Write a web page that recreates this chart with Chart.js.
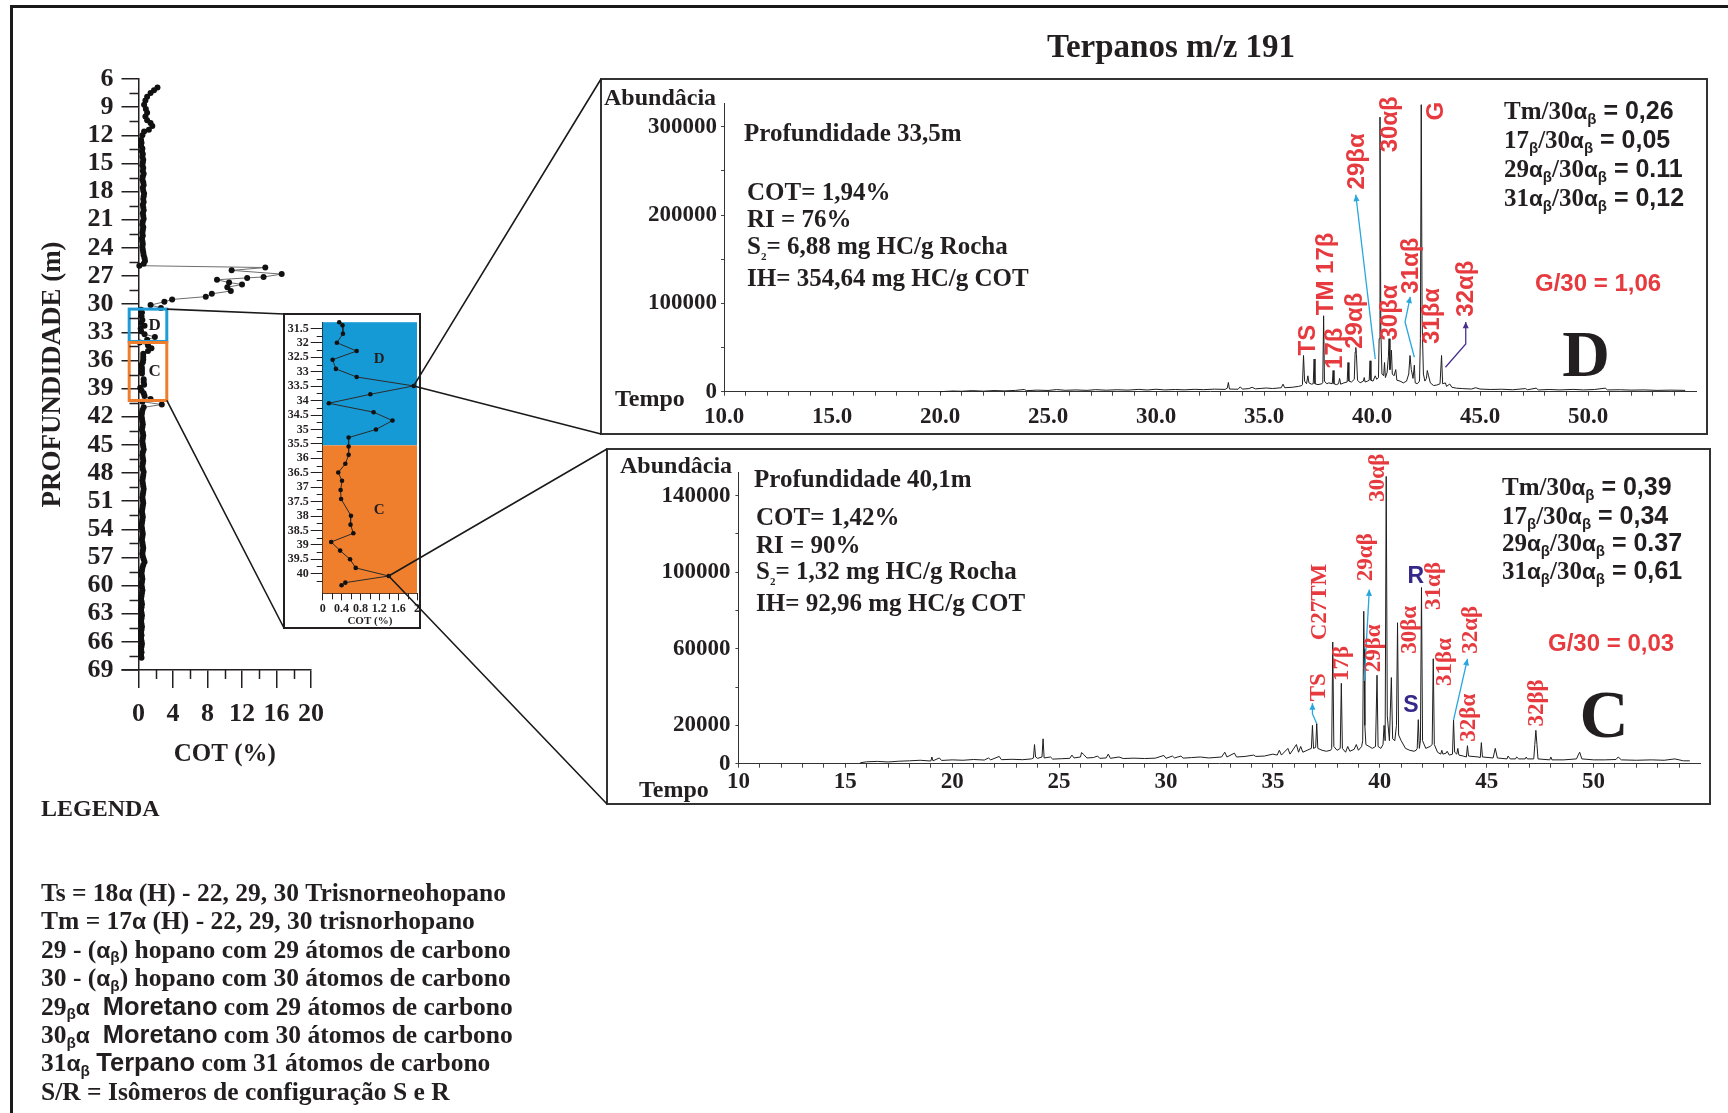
<!DOCTYPE html>
<html lang="pt">
<head>
<meta charset="utf-8">
<title>Terpanos m/z 191</title>
<script src="https://cdn.jsdelivr.net/npm/chart.js@4.4.1/dist/chart.umd.min.js"></script>
<style>
  html, body { margin: 0; padding: 0; background: #fff; }
  #page { position: relative; width: 1728px; height: 1113px; overflow: hidden; background: #fff; }
  canvas { position: absolute; }
  .txt { position: absolute; white-space: nowrap; line-height: 1; color: #231f20;
         font-family: "Liberation Serif", "Times New Roman", serif; font-weight: bold;
         transform: translateY(-50%); }
  .ctr { transform: translate(-50%, -50%); }
  .sn { font-family: "Liberation Sans", Arial, sans-serif; font-weight: bold; }
  .a { font-family: "Liberation Sans", Arial, sans-serif; font-weight: bold; font-size: 0.9em; }
  .b { font-family: "Liberation Sans", Arial, sans-serif; font-weight: bold; font-size: 0.6em; position: relative; top: 0.3em; }
  .box { position: absolute; box-sizing: border-box; border: 2px solid #333; }
</style>
</head>
<body>
<div id="page">
  <div class="box" style="left:10px;top:5px;width:1760px;height:1150px;border-width:3px 0 0 3px;border-color:#1a1a1a;"></div>
  <canvas id="depthChart" style="left:0;top:0" width="340" height="780"></canvas>
  <div class="box" style="left:283px;top:313px;width:138px;height:316px;border-color:#231f20"></div>
  <canvas id="insetChart" style="left:283px;top:313px" width="138" height="316"></canvas>
  <canvas id="chartD" style="left:600px;top:78px" width="1108" height="357"></canvas>
  <div class="box" style="left:600px;top:78px;width:1108px;height:357px"></div>
  <canvas id="chartC" style="left:606px;top:448px" width="1105" height="357"></canvas>
  <div class="box" style="left:606px;top:448px;width:1105px;height:357px"></div>
  <canvas id="links" style="left:0;top:0;pointer-events:none" width="1728" height="1113"></canvas>
</div>
<script>
// ---- depth profile (COT % vs depth m) ----
const depthM = [
  6.9, 7.2, 7.5, 7.9, 8.3, 8.75, 9.2, 9.6, 10.0, 10.4,
  10.7, 11.0, 11.4, 11.6, 12.0, 12.5, 12.8, 13.1, 13.4, 13.7,
  14.0, 14.3, 14.6, 14.9, 15.2, 15.5, 15.8, 16.1, 16.4, 16.7,
  17.0, 17.3, 17.6, 17.9, 18.2, 18.5, 18.8, 19.1, 19.4, 19.7,
  20.0, 20.3, 20.6, 20.9, 21.2, 21.5, 21.8, 22.1, 22.4, 22.7,
  23.0, 23.3, 23.6, 23.9, 24.2, 24.5, 24.8, 25.1, 25.4, 25.7,
  25.9, 26.1, 26.4, 26.8, 27.1, 27.2, 27.4, 27.7, 27.9, 28.2,
  28.6, 28.9, 29.2, 29.5, 29.75, 30.1, 30.4, 30.6, 30.9, 31.3,
  31.7, 32.0, 32.3, 32.6, 32.9, 33.2, 33.5, 33.8, 34.1, 34.4,
  34.7, 35.0, 35.3, 35.6, 35.9, 36.2, 36.5, 36.8, 37.1, 37.4,
  38.0, 38.3, 38.6, 38.9, 39.2, 39.5, 39.8, 40.1, 40.4, 40.7,
  41.0, 41.3, 41.6, 41.9, 42.2, 42.5, 42.8, 43.1, 43.4, 43.7,
  44.0, 44.3, 44.6, 44.9, 45.2, 45.5, 45.8, 46.1, 46.4, 46.7,
  47.0, 47.3, 47.6, 47.9, 48.2, 48.5, 48.8, 49.1, 49.4, 49.7,
  50.0, 50.3, 50.6, 50.9, 51.2, 51.5, 51.8, 52.1, 52.4, 52.7,
  53.0, 53.3, 53.6, 53.9, 54.2, 54.5, 54.8, 55.1, 55.4, 55.7,
  56.0, 56.3, 56.6, 56.9, 57.2, 57.5, 57.8, 58.1, 58.4, 58.7,
  59.0, 59.3, 59.6, 59.9, 60.2, 60.5, 60.8, 61.1, 61.4, 61.7,
  62.0, 62.3, 62.6, 62.9, 63.2, 63.5, 63.8, 64.1, 64.4, 64.7,
  65.0, 65.3, 65.6, 65.9, 66.2, 66.5, 66.8, 67.1, 67.4, 67.7
];
const cotM = [
  2.2, 1.8, 1.4, 1.0, 0.8, 0.65, 0.85, 1.0, 0.8, 1.0,
  1.4, 1.6, 1.2, 0.65, 0.45, 0.3, 0.35, 0.3, 0.45, 0.4,
  0.5, 0.45, 0.55, 0.5, 0.45, 0.55, 0.5, 0.6, 0.5, 0.45,
  0.55, 0.6, 0.5, 0.55, 0.65, 0.6, 0.55, 0.6, 0.5, 0.55,
  0.6, 0.5, 0.55, 0.6, 0.5, 0.45, 0.55, 0.5, 0.45, 0.5,
  0.4, 0.45, 0.5, 0.45, 0.5, 0.55, 0.6, 0.7, 0.75, 0.6,
  0.1, 14.7, 10.8, 16.6, 14.5, 12.6, 9.1, 10.5, 12.0, 10.3,
  10.7, 8.5, 7.8, 3.9, 3.0, 1.4, 2.6, 0.3, 0.4, 0.35,
  0.45, 0.3, 0.7, 0.25, 0.3, 0.7, 1.9, 1.0, 0.15, 1.1,
  1.5, 1.1, 0.55, 0.55, 0.55, 0.5, 0.35, 0.4, 0.4, 0.4,
  0.6, 0.6, 0.65, 0.2, 0.35, 0.6, 0.7, 1.4, 0.45, 2.7,
  0.6, 0.45, 0.4, 0.35, 0.4, 0.45, 0.5, 0.45, 0.4, 0.5,
  0.55, 0.5, 0.45, 0.5, 0.55, 0.6, 0.5, 0.45, 0.5, 0.55,
  0.5, 0.45, 0.5, 0.6, 0.55, 0.5, 0.45, 0.5, 0.55, 0.6,
  0.55, 0.5, 0.45, 0.5, 0.55, 0.5, 0.45, 0.4, 0.45, 0.5,
  0.45, 0.4, 0.35, 0.4, 0.45, 0.5, 0.45, 0.4, 0.45, 0.5,
  0.55, 0.5, 0.45, 0.5, 0.6, 0.7, 0.55, 0.45, 0.4, 0.35,
  0.4, 0.45, 0.4, 0.35, 0.4, 0.45, 0.4, 0.35, 0.3, 0.35,
  0.4, 0.35, 0.3, 0.35, 0.4, 0.35, 0.3, 0.35, 0.4, 0.35,
  0.3, 0.35, 0.3, 0.35, 0.4, 0.35, 0.3, 0.35, 0.3, 0.35
];
const depthTicks = [6, 9, 12, 15, 18, 21, 24, 27, 30, 33, 36, 39, 42, 45, 48, 51, 54, 57, 60, 63, 66, 69];
const depthMinor = [7.5, 10.5, 13.5, 16.5, 19.5, 22.5, 25.5, 28.5, 31.5, 34.5, 37.5, 40.5, 43.5, 46.5, 49.5, 52.5, 55.5, 58.5, 61.5, 64.5, 67.5];
const cotTicks = [0, 4, 8, 12, 16, 20];
const cotMinor = [2, 6, 10, 14, 18];

// ---- zoomed interval 31.3 - 40.7 m ----
const insetDepth = [31.28, 31.39, 31.68, 31.99, 32.28, 32.58, 32.9, 33.18, 33.49, 33.78,
  34.09, 34.4, 34.69, 35.0, 35.28, 35.59, 35.88, 36.19, 36.49, 36.78,
  37.1, 37.41, 37.99, 38.3, 38.6, 38.9, 39.2, 39.5, 39.8, 40.08, 40.31, 40.4];
const insetCot = [0.35, 0.42, 0.43, 0.30, 0.72, 0.21, 0.28, 0.72, 1.93, 1.01,
  0.13, 1.08, 1.48, 1.13, 0.55, 0.55, 0.55, 0.48, 0.33, 0.41,
  0.38, 0.39, 0.60, 0.59, 0.65, 0.18, 0.37, 0.58, 0.70, 1.40, 0.48, 0.40];
const insetDepthTicks = [31.5, 32, 32.5, 33, 33.5, 34, 34.5, 35, 35.5, 36, 36.5, 37, 37.5, 38, 38.5, 39, 39.5, 40];
const insetDepthMinor = [31.75, 32.25, 32.75, 33.25, 33.75, 34.25, 34.75, 35.25, 35.75, 36.25, 36.75, 37.25, 37.75, 38.25, 38.75, 39.25, 39.75, 40.25];
const insetCotTicks = [0, 0.4, 0.8, 1.2, 1.6, 2];
const insetCotMinor = [0.2, 0.6, 1.0, 1.4, 1.8];
const insetLinkD = 33.49, insetLinkC = 40.08;

// ---- chromatogram D (33,5 m) ----
const dTime = [
  20.0, 20.6, 21.0, 21.5, 22.0, 22.5, 23.0, 23.5, 23.9, 24.0,
  24.5, 25.0, 25.4, 25.8, 26.3, 26.8, 27.2, 27.7, 28.2, 28.7,
  29.2, 29.6, 30.0, 30.4, 30.9, 31.3, 31.8, 32.2, 32.7, 33.2,
  33.3, 33.35, 33.4, 33.8, 33.9, 34.0, 34.3, 34.45, 34.6, 34.9,
  35.1, 35.4, 35.8, 35.88, 35.96, 36.3, 36.6, 36.75, 36.78, 36.83,
  36.88, 36.97, 37.03, 37.08, 37.2, 37.28, 37.32, 37.36, 37.5, 37.68,
  37.72, 37.76, 37.8, 37.9, 38.0, 38.16, 38.2, 38.24, 38.35, 38.45,
  38.5, 38.55, 38.7, 38.85, 38.89, 38.93, 39.05, 39.18, 39.22, 39.25,
  39.28, 39.33, 39.45, 39.6, 39.64, 39.68, 39.8, 39.87, 39.91, 39.95,
  40.05, 40.15, 40.22, 40.3, 40.33, 40.37, 40.41, 40.46, 40.54, 40.58,
  40.62, 40.7, 40.76, 40.79, 40.83, 40.87, 40.9, 40.94, 41.02, 41.1,
  41.15, 41.3, 41.45, 41.6, 41.7, 41.76, 41.82, 41.9, 41.96, 42.0,
  42.1, 42.2, 42.24, 42.28, 42.32, 42.38, 42.45, 42.52, 42.56, 42.62,
  42.7, 42.85, 43.0, 43.15, 43.22, 43.27, 43.4, 43.45, 43.6, 43.7,
  43.9, 44.2, 44.6, 44.8, 45.0, 45.5, 46.0, 46.5, 47.1, 47.2,
  47.6, 47.7, 48.2, 48.7, 49.3, 49.8, 50.3, 50.8, 50.9, 51.5,
  52.0, 52.6, 53.2, 53.8, 54.5
];
const dAbund = [
  0, 800, 500, 1200, 600, 1300, 900, 1500, 2500, 1200,
  1800, 1400, 2400, 1600, 2000, 1500, 2300, 1700, 2200, 1800,
  2600, 1900, 2800, 2000, 2500, 2100, 2700, 2300, 2900, 2600,
  4000, 10500, 3000, 2800, 5500, 2900, 3500, 5000, 3200, 3800,
  4200, 3600, 4500, 8500, 4500, 5000, 6000, 7000, 8000, 41000,
  12000, 9000, 18000, 10000, 8500, 9000, 37000, 9000, 8000, 9000,
  10000, 86000, 12000, 9000, 10000, 9000, 24000, 9000, 8000, 9000,
  15000, 8500, 10000, 11000, 33000, 12000, 11000, 14000, 45000, 50000,
  42000, 13000, 10000, 12000, 16000, 11000, 12000, 13000, 35000, 13000,
  12000, 18000, 14000, 16000, 60000, 311000, 70000, 20000, 18000, 33000,
  16000, 22000, 40000, 60000, 25000, 35000, 47000, 20000, 18000, 25000,
  13000, 12000, 10000, 12000, 20000, 41000, 25000, 15000, 30000, 10000,
  9000, 12000, 60000, 325000, 80000, 20000, 12000, 15000, 24000, 18000,
  10000, 7000, 7500, 9000, 41000, 9000, 10000, 6000, 8700, 5000,
  4000, 3500, 3000, 4500, 3000, 2500, 2800, 2200, 3500, 2200,
  4000, 2000, 2500, 2000, 2600, 2000, 2500, 4000, 2000, 2200,
  1800, 2000, 1500, 1800, 1500
];
const dTimeTicks = [10, 15, 20, 25, 30, 35, 40, 45, 50];
const dAbundTicks = [0, 100000, 200000, 300000];

// ---- chromatogram C (40,1 m) ----
const cTime = [
  15.7, 16.0, 16.5, 17.0, 17.5, 18.0, 18.5, 19.0, 19.05, 19.1,
  19.4, 19.5, 20.0, 20.5, 21.0, 21.5, 21.7, 21.8, 22.2, 22.3,
  22.8, 23.3, 23.7, 23.8, 23.85, 23.9, 24.0, 24.2, 24.25, 24.3,
  24.6, 24.7, 25.1, 25.5, 25.6, 25.7, 26.0, 26.05, 26.15, 26.3,
  26.6, 26.8, 26.9, 27.2, 27.3, 27.4, 27.8, 28.0, 28.5, 29.0,
  29.5, 29.9, 30.0, 30.3, 30.4, 30.7, 30.8, 31.2, 31.6, 32.0,
  32.6, 32.75, 32.85, 33.2, 33.3, 33.7, 34.1, 34.2, 34.6, 35.0,
  35.2, 35.3, 35.4, 35.7, 35.8, 36.1, 36.2, 36.3, 36.4, 36.6,
  36.8, 36.85, 36.9, 37.0, 37.05, 37.1, 37.3, 37.5, 37.7, 37.75,
  37.8, 37.85, 38.0, 38.15, 38.2, 38.25, 38.4, 38.5, 38.6, 38.8,
  38.9, 39.0, 39.15, 39.2, 39.25, 39.27, 39.3, 39.35, 39.5, 39.65,
  39.8, 39.87, 39.92, 40.05, 40.15, 40.2, 40.25, 40.3, 40.35, 40.45,
  40.54, 40.6, 40.7, 40.78, 40.83, 40.88, 41.0, 41.2, 41.4, 41.6,
  41.7, 41.75, 41.8, 41.85, 41.9, 41.95, 42.0, 42.15, 42.35, 42.45,
  42.5, 42.55, 42.7, 42.85, 42.9, 42.95, 43.1, 43.15, 43.25, 43.4,
  43.45, 43.5, 43.6, 43.65, 43.7, 43.9, 44.05, 44.1, 44.15, 44.6,
  44.7, 44.75, 44.8, 45.3, 45.4, 45.5, 45.95, 46.0, 46.1, 46.35,
  46.4, 46.5, 46.8, 46.85, 46.9, 47.2, 47.25, 47.3, 47.35, 47.4,
  47.95, 48.0, 48.05, 48.6, 49.2, 49.3, 49.35, 49.45, 50.0, 50.5,
  51.05, 51.15, 51.3, 52.0, 52.7, 53.3, 53.8, 54.2, 54.5
];
const cAbund = [
  500, 1000, 1200, 900, 1300, 1500, 1800, 1400, 3500, 1500,
  3000, 1700, 2000, 1800, 2200, 1900, 3000, 2000, 3800, 2100,
  2300, 2100, 2500, 3000, 10000, 3500, 2800, 3500, 13000, 3000,
  3500, 2400, 2600, 2800, 4500, 3000, 3500, 5800, 4800, 3000,
  3200, 4000, 2800, 3000, 5000, 2800, 3500, 2700, 2900, 2700,
  2900, 4300, 2800, 4000, 3000, 4000, 2900, 3200, 3500, 3000,
  3500, 6000, 3500, 5500, 3500, 3800, 4500, 3800, 4000, 5000,
  4500, 7000, 4500, 8000, 5000, 10000, 6000, 9000, 6000, 7000,
  8000, 20000, 8000, 8500, 21000, 8000, 7000, 6500, 7000, 8000,
  63500, 9000, 7000, 8000, 42000, 8000, 6000, 9000, 6500, 7500,
  10000, 7000, 9000, 12000, 79600, 60000, 20000, 10000, 9000, 8000,
  9000, 46200, 9000, 8000, 10000, 20000, 12000, 150000, 25000, 12000,
  45000, 13000, 12000, 20000, 73600, 15000, 12000, 8000, 7000, 6500,
  7000, 8000, 23000, 8000, 12000, 92000, 12000, 8000, 9000, 10000,
  54800, 10000, 6000, 5000, 7000, 5000, 5500, 6500, 4500, 5000,
  22700, 6000, 5000, 8000, 4500, 4000, 3500, 9400, 4000, 3500,
  3200, 11000, 3500, 3000, 8000, 3000, 2500, 4000, 2500, 2500,
  3500, 2500, 2500, 3500, 2500, 2500, 10000, 17400, 10000, 2500,
  2000, 3500, 2000, 2000, 2500, 5000, 6000, 2500, 2000, 2000,
  2200, 3500, 2000, 1800, 2000, 1800, 2500, 1500, 1500
];
const cTimeTicks = [10, 15, 20, 25, 30, 35, 40, 45, 50];
const cAbundTicks = [0, 20000, 60000, 100000, 140000];

// peak names (retention time, abundance where the text starts)
const dPeakLabels = [
  { text: 'TS', t: 37.05, v: 41000 },
  { text: 'TM 17β', t: 37.89, v: 86600 },
  { text: '17β', t: 38.31, v: 25800 },
  { text: '29αβ', t: 39.25, v: 48600 },
  { text: '29βα', t: 39.33, v: 229000 },
  { text: '30αβ', t: 40.86, v: 271000 },
  { text: 'G', t: 43.0, v: 307000 },
  { text: '30βα', t: 40.86, v: 58000 },
  { text: '31αβ', t: 41.83, v: 111000 },
  { text: '31βα', t: 42.8, v: 54000 },
  { text: '32αβ', t: 44.39, v: 85000 }
];
const cPeakLabels = [
  { text: 'TS', t: 37.14, v: 32600 },
  { text: 'C27TM', t: 37.21, v: 64400 },
  { text: '17β', t: 38.24, v: 43200 },
  { text: '29αβ', t: 39.35, v: 95300 },
  { text: '29βα', t: 39.71, v: 47700 },
  { text: '30αβ', t: 39.9, v: 136800 },
  { text: '30βα', t: 41.41, v: 57400 },
  { text: '31αβ', t: 42.56, v: 80300 },
  { text: '31βα', t: 43.04, v: 40600 },
  { text: '32αβ', t: 44.26, v: 57400 },
  { text: '32βα', t: 44.18, v: 11500 },
  { text: '32ββ', t: 47.34, v: 19400 },
  { text: 'R', t: 41.68, v: 97600, upright: true },
  { text: 'S', t: 41.45, v: 30400, upright: true }
];

const SERIF = '"Liberation Serif", "Times New Roman", serif';
const SANS = '"Liberation Sans", Arial, sans-serif';
const INK = '#231f20';
const RED = '#e63a3f';
const CYAN = '#27a6de';
const INDIGO = '#35288a';

Chart.defaults.font.family = SERIF;
Chart.defaults.color = INK;

const minorTicks = {
  id: 'minorTicks',
  afterDraw(chart, args, o) {
    const { ctx, chartArea: a, scales: { x, y } } = chart;
    ctx.save();
    ctx.strokeStyle = INK;
    ctx.lineWidth = o.width || 1;
    ctx.beginPath();
    (o.y || []).forEach(v => { const py = Math.round(y.getPixelForValue(v)) + 0.5; ctx.moveTo(a.left - o.len, py); ctx.lineTo(a.left, py); });
    (o.x || []).forEach(v => { const px = Math.round(x.getPixelForValue(v)) + 0.5; ctx.moveTo(px, a.bottom); ctx.lineTo(px, a.bottom + o.len); });
    if (o.extendX) { ctx.moveTo(a.left - o.extendX, a.bottom); ctx.lineTo(a.left, a.bottom); }
    ctx.stroke();
    ctx.restore();
  }
};

// interval boxes on the depth profile
const depthBoxes = {
  id: 'depthBoxes',
  afterDatasetsDraw(chart, args, o) {
    const { ctx, scales: { x, y } } = chart;
    ctx.save();
    o.boxes.forEach(b => {
      const x0 = x.getPixelForValue(b.x0), x1 = x.getPixelForValue(b.x1);
      const y0 = y.getPixelForValue(b.y0), y1 = y.getPixelForValue(b.y1);
      ctx.strokeStyle = b.color; ctx.lineWidth = 3;
      ctx.strokeRect(x0, y0, x1 - x0, y1 - y0);
      ctx.fillStyle = INK; ctx.font = 'bold 17px ' + SERIF;
      ctx.textAlign = 'center'; ctx.textBaseline = 'middle';
      ctx.fillText(b.label, x0 + (x1 - x0) * 0.68, (y0 + y1) / 2);
    });
    ctx.restore();
  }
};

const insetBands = {
  id: 'insetBands',
  beforeDatasetsDraw(chart, args, o) {
    const { ctx, chartArea: a, scales: { x, y } } = chart;
    ctx.save();
    o.bands.forEach(b => {
      const y0 = y.getPixelForValue(b.from), y1 = y.getPixelForValue(b.to);
      ctx.fillStyle = b.color;
      ctx.fillRect(a.left, y0, a.right - a.left, y1 - y0);
      ctx.fillStyle = INK; ctx.font = 'bold 15px ' + SERIF;
      ctx.textAlign = 'center'; ctx.textBaseline = 'middle';
      ctx.fillText(b.label, x.getPixelForValue(1.2), y.getPixelForValue(b.labelAt));
    });
    ctx.restore();
  }
};

const peakLabels = {
  id: 'peakLabels',
  afterDatasetsDraw(chart, args, o) {
    const { ctx, scales: { x, y } } = chart;
    ctx.save();
    (o.arrows || []).forEach(ar => {
      const pts = ar.path.map(p => [x.getPixelForValue(p[0]), y.getPixelForValue(p[1])]);
      ctx.strokeStyle = ar.color; ctx.fillStyle = ar.color; ctx.lineWidth = 1.3;
      ctx.beginPath();
      pts.forEach((p, i) => i ? ctx.lineTo(p[0], p[1]) : ctx.moveTo(p[0], p[1]));
      ctx.stroke();
      const [x1, y1] = pts[pts.length - 2], [x2, y2] = pts[pts.length - 1];
      const ang = Math.atan2(y2 - y1, x2 - x1);
      ctx.beginPath();
      ctx.moveTo(x2, y2);
      ctx.lineTo(x2 - 7 * Math.cos(ang - 0.45), y2 - 7 * Math.sin(ang - 0.45));
      ctx.lineTo(x2 - 7 * Math.cos(ang + 0.45), y2 - 7 * Math.sin(ang + 0.45));
      ctx.closePath(); ctx.fill();
    });
    o.labels.forEach(l => {
      ctx.save();
      ctx.translate(x.getPixelForValue(l.t), y.getPixelForValue(l.v));
      if (l.upright) {
        ctx.font = 'bold 23px ' + SANS; ctx.fillStyle = INDIGO; ctx.textAlign = 'center';
      } else {
        ctx.rotate(-Math.PI / 2);
        ctx.font = o.font; ctx.fillStyle = RED; ctx.textAlign = 'left';
      }
      ctx.textBaseline = 'middle';
      ctx.fillText(l.text, 0, 0);
      ctx.restore();
    });
    ctx.restore();
  }
};

const tickFont = size => ({ family: SERIF, size: size, weight: 'bold' });
const baseOpts = { responsive: false, animation: false, events: [], plugins: { legend: { display: false }, tooltip: { enabled: false } } };

// ---------- depth profile ----------
const depthChart = new Chart(document.getElementById('depthChart'), {
  type: 'scatter',
  data: { datasets: [{
    data: depthM.map((d, i) => ({ x: cotM[i], y: d })),
    showLine: true, borderColor: '#6d6d6d', borderWidth: 1,
    pointRadius: 3, pointBackgroundColor: '#111', pointBorderWidth: 0, clip: false
  }] },
  options: {
    ...baseOpts,
    layout: { padding: { left: 0, top: 79, right: 29, bottom: 0 } },
    plugins: {
      ...baseOpts.plugins,
      minorTicks: { y: depthMinor, x: cotMinor, len: 9, width: 1.5, extendX: 17 },
      depthBoxes: { boxes: [
        { x0: -1.08, x1: 3.28, y0: 30.53, y1: 33.98, color: '#1f9bd7', label: 'D' },
        { x0: -1.08, x1: 3.28, y0: 34.09, y1: 40.27, color: '#ee7d2d', label: 'C' }
      ] }
    },
    scales: {
      x: { type: 'linear', min: 0, max: 20,
        afterFit: s => { s.height = 110; },
        afterBuildTicks: s => { s.ticks = cotTicks.map(v => ({ value: v })); },
        ticks: { font: tickFont(26), color: INK, padding: 11, maxRotation: 0, autoSkip: false },
        grid: { drawOnChartArea: false, tickLength: 18, color: INK, lineWidth: 1.5 },
        border: { color: INK, width: 1.5 },
        title: { display: true, text: 'COT (%)', font: tickFont(25), color: INK, padding: { top: 0, bottom: 10 } } },
      y: { type: 'linear', min: 6, max: 69, reverse: true,
        afterFit: s => { s.width = 138.5; },
        afterBuildTicks: s => { s.ticks = depthTicks.map(v => ({ value: v })); },
        ticks: { font: tickFont(26), color: INK, padding: 8, autoSkip: false },
        grid: { drawOnChartArea: false, tickLength: 17, color: INK, lineWidth: 1.5 },
        border: { color: INK, width: 1.5 },
        title: { display: true, text: 'PROFUNDIDADE (m)', font: tickFont(27), color: INK, padding: { top: 37, bottom: 0 } } }
    }
  },
  plugins: [minorTicks, depthBoxes]
});

// ---------- zoomed interval ----------
const insetChart = new Chart(document.getElementById('insetChart'), {
  type: 'scatter',
  data: { datasets: [{
    data: insetDepth.map((d, i) => ({ x: insetCot[i], y: d })),
    showLine: true, borderColor: '#2b2b2b', borderWidth: 1,
    pointRadius: 2.3, pointBackgroundColor: '#111', pointBorderWidth: 0, clip: false
  }] },
  options: {
    ...baseOpts,
    layout: { padding: { left: 0, top: 4.7, right: 3, bottom: 0 } },
    plugins: {
      ...baseOpts.plugins,
      minorTicks: { y: insetDepthMinor, x: insetCotMinor, len: 6, width: 1 },
      insetBands: { bands: [
        { from: 31.28, to: 35.55, color: '#169ad5', label: 'D', labelAt: 32.55 },
        { from: 35.55, to: 40.68, color: '#ef7f2c', label: 'C', labelAt: 37.78 }
      ] }
    },
    scales: {
      x: { type: 'linear', min: 0, max: 2,
        afterFit: s => { s.height = 35.7; },
        afterBuildTicks: s => { s.ticks = insetCotTicks.map(v => ({ value: v })); },
        ticks: { font: tickFont(12), color: INK, padding: 1, maxRotation: 0, autoSkip: false, callback: v => String(v) },
        grid: { drawOnChartArea: false, tickLength: 7, color: INK },
        border: { color: INK, width: 1 },
        title: { display: true, text: 'COT (%)', font: tickFont(11), color: INK, padding: { top: 0, bottom: 1 } } },
      y: { type: 'linear', min: 31.28, max: 40.68, reverse: true,
        afterFit: s => { s.width = 39.7; },
        afterBuildTicks: s => { s.ticks = insetDepthTicks.map(v => ({ value: v })); },
        ticks: { font: tickFont(12), color: INK, padding: 2, autoSkip: false, callback: v => String(v) },
        grid: { drawOnChartArea: false, tickLength: 12, color: INK },
        border: { color: INK, width: 1 } }
    }
  },
  plugins: [insetBands, minorTicks]
});

// ---------- chromatograms ----------
function chromatogram(id, times, values, o) {
  return new Chart(document.getElementById(id), {
    type: 'line',
    data: { datasets: [{
      data: times.map((t, i) => ({ x: t, y: values[i] })),
      borderColor: '#1e1e1e', borderWidth: 1, pointRadius: 0, tension: 0,
      borderJoinStyle: 'round', fill: false, clip: false
    }] },
    options: {
      ...baseOpts,
      layout: { padding: o.padding },
      plugins: { ...baseOpts.plugins, peakLabels: { labels: o.labels, arrows: o.arrows, font: o.labelFont } },
      scales: {
        x: { type: 'linear', min: 10, max: 55,
          afterFit: s => { s.height = o.xHeight; },
          afterBuildTicks: s => { const t = []; for (let v = 10; v <= 54; v++) t.push({ value: v }); s.ticks = t; },
          ticks: { font: tickFont(23), color: INK, padding: o.xPad, maxRotation: 0, autoSkip: false,
            callback: v => o.xTicks.includes(v) ? o.xFmt(v) : '' },
          grid: { drawOnChartArea: false, tickLength: 4, color: '#444' },
          border: { color: '#333', width: 1 } },
        y: { type: 'linear', min: 0, max: o.yMax,
          afterFit: s => { s.width = o.yWidth; },
          afterBuildTicks: s => { s.ticks = o.yTickAll.map(v => ({ value: v })); },
          ticks: { font: tickFont(23), color: INK, padding: o.yPad, autoSkip: false,
            callback: v => o.yTicks.includes(v) ? String(v) : '' },
          grid: { drawOnChartArea: false, tickLength: 3, color: '#444' },
          border: { color: '#333', width: 1 } }
      }
    },
    plugins: [peakLabels]
  });
}

const chartD = chromatogram('chartD', dTime, dAbund, {
  padding: { left: 0, top: 25.8, right: 12, bottom: 0 }, xHeight: 43.3, yWidth: 124,
  yMax: 326000, yTicks: dAbundTicks, yTickAll: [0, 50000, 100000, 150000, 200000, 250000, 300000],
  xTicks: dTimeTicks, xFmt: v => v.toFixed(1), xPad: 8, yPad: 4,
  labels: dPeakLabels, labelFont: 'bold 24px ' + SANS,
  arrows: [
    { color: CYAN, path: [[40.15, 37000], [39.25, 223000]] },
    { color: CYAN, path: [[41.96, 39000], [41.53, 79000], [41.77, 107500]] },
    { color: '#4b2f8f', path: [[43.4, 27700], [44.34, 54000], [44.34, 79000]] }
  ]
});

const chartC = chromatogram('chartC', cTime, cAbund, {
  padding: { left: 0, top: 24.6, right: 10.5, bottom: 0 }, xHeight: 41.3, yWidth: 132.4,
  yMax: 152000, yTicks: cAbundTicks, yTickAll: [0, 20000, 40000, 60000, 80000, 100000, 120000, 140000],
  xTicks: cTimeTicks, xFmt: v => String(v), xPad: 1, yPad: 5,
  labels: cPeakLabels, labelFont: 'bold 23px ' + SERIF,
  arrows: [
    { color: CYAN, path: [[37.05, 21000], [36.85, 26000], [36.85, 31500]] },
    { color: CYAN, path: [[39.27, 43200], [39.51, 90900]] },
    { color: CYAN, path: [[43.45, 22900], [44.1, 54700]] }
  ]
});

// ---------- texts ----------
const page = document.getElementById('page');
function addText(html, x, y, size, extra) {
  const d = document.createElement('div');
  d.className = 'txt' + (extra && extra.center ? ' ctr' : '');
  d.style.left = x + 'px'; d.style.top = y + 'px'; d.style.fontSize = size + 'px';
  if (extra && extra.color) d.style.color = extra.color;
  if (extra && extra.sans) d.classList.add('sn');
  d.innerHTML = html;
  page.appendChild(d);
}
const A = '<span class="a">α</span>', B = '<span class="b">β</span>';

addText('Terpanos m/z 191', 1171, 46, 33, { center: true });

// chart D texts
addText('Abundâcia', 604, 97, 24);
addText('Tempo', 615, 398, 24);
addText('Profundidade 33,5m', 744, 132, 25);
addText('COT= 1,94%', 747, 191, 25);
addText('RI = 76%', 747, 218, 25);
addText('S<sub style="font-size:11px">2</sub>= 6,88 mg HC/g Rocha', 747, 247, 25);
addText('IH= 354,64 mg HC/g COT', 747, 277, 25);
addText('Tm/30' + A + B + '<span class="sn"> = 0,26</span>', 1504, 111, 25);
addText('17' + B + '/30' + A + B + '<span class="sn"> = 0,05</span>', 1504, 140, 25);
addText('29' + A + B + '/30' + A + B + '<span class="sn"> = 0.11</span>', 1504, 169, 25);
addText('31' + A + B + '/30' + A + B + '<span class="sn"> = 0,12</span>', 1504, 198, 25);
addText('G/30 = 1,06', 1535, 283, 24, { color: RED, sans: true });
addText('D', 1586, 354, 66, { center: true });

// chart C texts
addText('Abundâcia', 620, 465, 24);
addText('Tempo', 639, 789, 24);
addText('Profundidade 40,1m', 754, 478, 25);
addText('COT= 1,42%', 756, 516, 25);
addText('RI = 90%', 756, 544, 25);
addText('S<sub style="font-size:11px">2</sub>= 1,32 mg HC/g Rocha', 756, 572, 25);
addText('IH= 92,96 mg HC/g COT', 756, 602, 25);
addText('Tm/30' + A + B + '<span class="sn"> = 0,39</span>', 1502, 487, 25);
addText('17' + B + '/30' + A + B + '<span class="sn"> = 0,34</span>', 1502, 516, 25);
addText('29' + A + B + '/30' + A + B + '<span class="sn"> = 0.37</span>', 1502, 543, 25);
addText('31' + A + B + '/30' + A + B + '<span class="sn"> = 0,61</span>', 1502, 571, 25);
addText('G/30 = 0,03', 1548, 643, 24, { color: RED, sans: true });
addText('C', 1604, 714, 68, { center: true });

// legend
addText('LEGENDA', 41, 808, 24);
const legendLines = [
  'Ts = 18' + A + ' (H) - 22, 29, 30 Trisnorneohopano',
  'Tm = 17' + A + ' (H) - 22, 29, 30 trisnorhopano',
  '29 - (' + A + B + ') hopano com 29 átomos de carbono',
  '30 - (' + A + B + ') hopano com 30 átomos de carbono',
  '29' + B + A + '&nbsp; <span class="sn">Moretano</span> com 29 átomos de carbono',
  '30' + B + A + '&nbsp; <span class="sn">Moretano</span> com 30 átomos de carbono',
  '31' + A + B + ' <span class="sn">Terpano</span> com 31 átomos de carbono',
  'S/R = Isômeros de configuração S e R'
];
legendLines.forEach((h, i) => addText(h, 41, 893 + i * 28.4, 25.5));

// ---------- connector lines ----------
(function drawLinks() {
  const ctx = document.getElementById('links').getContext('2d');
  const dx = depthChart.scales.x, dy = depthChart.scales.y;
  const at = (c, off, xv, yv) => [off[0] + c.scales.x.getPixelForValue(xv), off[1] + c.scales.y.getPixelForValue(yv)];
  const pD = at(insetChart, [283, 313], insetCot[insetDepth.indexOf(insetLinkD)], insetLinkD);
  const pC = at(insetChart, [283, 313], insetCot[insetDepth.indexOf(insetLinkC)], insetLinkC);
  const boxDTop = [dx.getPixelForValue(3.28), dy.getPixelForValue(30.53)];
  const boxCBot = [dx.getPixelForValue(3.28), dy.getPixelForValue(40.27)];
  const segs = [
    [boxDTop, [284, 314]], [boxCBot, [284, 628]],
    [pD, [601, 79]], [pD, [601, 434]],
    [pC, [607, 449]], [pC, [607, 804]]
  ];
  ctx.strokeStyle = '#1a1a1a'; ctx.lineWidth = 1.6;
  ctx.beginPath();
  segs.forEach(s => { ctx.moveTo(s[0][0], s[0][1]); ctx.lineTo(s[1][0], s[1][1]); });
  ctx.stroke();
})();
</script>
</body>
</html>
